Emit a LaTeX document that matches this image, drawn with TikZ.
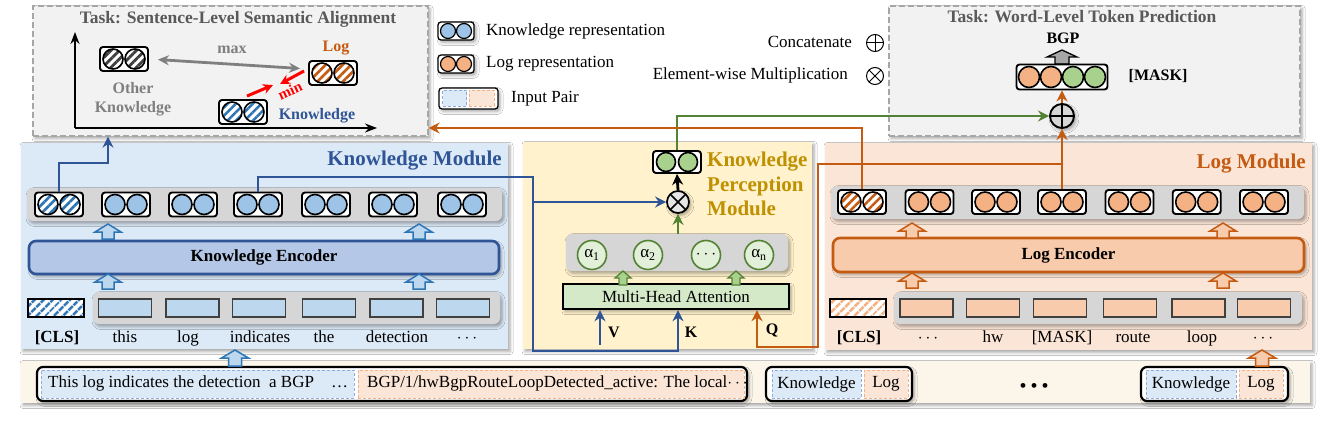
\documentclass[tikz,border=0pt]{standalone}
\usepackage{fontspec}
\setmainfont{Liberation Serif}
\usetikzlibrary{arrows.meta,calc,shadows.blur,patterns.meta}
\definecolor{cKB}{HTML}{2F5597}
\definecolor{cKFill}{HTML}{DCE9F6}
\definecolor{cKDot}{HTML}{9DC3E6}
\definecolor{cKTok}{HTML}{BDD7EE}
\definecolor{cKEnc}{HTML}{B4C7E7}
\definecolor{cKArr}{HTML}{2E75B6}
\definecolor{cLO}{HTML}{C55A11}
\definecolor{cLFill}{HTML}{FBE5D6}
\definecolor{cLDot}{HTML}{F4B183}
\definecolor{cLTok}{HTML}{F8CBAD}
\definecolor{cGold}{HTML}{BF9000}
\definecolor{cKPM}{HTML}{FFF2CC}
\definecolor{cG}{HTML}{548235}
\definecolor{cGDot}{HTML}{A9D18E}
\definecolor{cGLight}{HTML}{E2F0D9}
\definecolor{cMHA}{HTML}{D3E9C8}
\definecolor{cPanel}{HTML}{D6D6D6}
\definecolor{cTask}{HTML}{F2F2F2}
\definecolor{cTaskB}{HTML}{A6A6A6}
\definecolor{cGrayText}{HTML}{7F7F7F}
\definecolor{cTitle}{HTML}{595959}
\definecolor{cStrip}{HTML}{FBF5EA}
\definecolor{cDashB}{HTML}{8FAADC}
\definecolor{cDashO}{HTML}{F4B183}
\definecolor{cDark}{HTML}{404040}
\definecolor{cTokB}{HTML}{404040}
\definecolor{cGrayArr}{HTML}{A6A6A6}
\definecolor{cMul}{HTML}{E7E6E6}

\tikzset{
  every node/.style={font=\fontsize{17}{20}\selectfont, inner sep=0pt},
  shd/.style={blur shadow={shadow xshift=2pt,shadow yshift=-2.5pt,shadow blur radius=3pt,shadow opacity=35}},
  taskbox/.style={draw=cTaskB, dash pattern=on 6pt off 3pt, line width=1.3pt, fill=cTask, shd},
  modbox/.style={shd},
  panel/.style={fill=cPanel, rounded corners=6pt, shd},
  repframe/.style={draw=black, line width=1.9pt, fill=white, rounded corners=3pt, minimum width=48pt, minimum height=24pt},
  repdot/.style={circle, draw=black, line width=1.6pt, minimum size=20pt},
  kdot/.style={fill=cKDot}, ldot/.style={fill=cLDot}, gdot/.style={fill=cGDot},
  khatch/.style={preaction={fill=white}, pattern={Lines[angle=45,distance=6pt,line width=2.6pt]}, pattern color=cKArr},
  lhatch/.style={preaction={fill=white}, pattern={Lines[angle=45,distance=6pt,line width=2.6pt]}, pattern color=cLO},
  ohatch/.style={preaction={fill=white}, pattern={Lines[angle=45,distance=6pt,line width=2.8pt]}, pattern color=cDark},
  kclsbox/.style={draw=black, line width=1.5pt, minimum width=56pt, minimum height=18pt, preaction={fill=white}, pattern={Lines[angle=45,distance=6.5pt,line width=3pt]}, pattern color=cKArr},
  lclsbox/.style={draw=black, line width=1.5pt, minimum width=56pt, minimum height=18pt, preaction={fill=white}, pattern={Lines[angle=45,distance=6.5pt,line width=3pt]}, pattern color=cDashO},
  ktok/.style={draw=cTokB, line width=1.3pt, fill=cKTok, minimum width=53pt, minimum height=18pt},
  ltok/.style={draw=cTokB, line width=1.3pt, fill=cLTok, minimum width=53pt, minimum height=18pt},
  enc/.style={rounded corners=7pt, line width=2.6pt, font=\fontsize{17}{20}\selectfont\bfseries, shd},
  wrd/.style={text height=12pt, text depth=4pt},
  lab/.style={font=\fontsize{16}{19}\selectfont\bfseries},
  ttl/.style={font=\fontsize{21}{24}\selectfont\bfseries},
  tskttl/.style={font=\fontsize{17.5}{20}\selectfont\bfseries, text=cTitle},
  kl/.style={draw=cKB, line width=2.8pt, -{Stealth[length=11pt,width=11pt]}},
  ol/.style={draw=cLO, line width=2.8pt, -{Stealth[length=11pt,width=11pt]}},
  gl/.style={draw=cG, line width=2.8pt, -{Stealth[length=11pt,width=11pt]}},
  bl/.style={draw=black, line width=2.8pt, -{Stealth[length=11pt,width=11pt]}},
  hK/.style={draw=cKArr, line width=1.5pt, fill=cKTok},
  hL/.style={draw=cLO, line width=1.5pt, fill=cLTok},
  hG/.style={draw=cG, line width=1.3pt, fill=cGDot},
  hGray/.style={draw=black, line width=1.3pt, fill=cGrayArr},
  oplusnode/.style={circle, draw=black, line width=1pt, minimum size=17pt, fill=white,
    path picture={\draw[line width=1pt] (path picture bounding box.north) -- (path picture bounding box.south) (path picture bounding box.west) -- (path picture bounding box.east);}},
  otimesnode/.style={circle, draw=black, line width=1pt, minimum size=17pt, fill=white,
    path picture={\draw[line width=1pt] (path picture bounding box.north west) -- (path picture bounding box.south east) (path picture bounding box.north east) -- (path picture bounding box.south west);}},
  catnode/.style={circle, draw=black, line width=1.9pt, minimum size=24pt, fill=cPanel, shd,
    path picture={\draw[line width=1.9pt] (path picture bounding box.north) -- (path picture bounding box.south) (path picture bounding box.west) -- (path picture bounding box.east);}},
  mulnode/.style={circle, draw=black, line width=1.7pt, minimum size=22pt, fill=cMul, shd,
    path picture={\draw[line width=1.7pt] (path picture bounding box.north west) -- (path picture bounding box.south east) (path picture bounding box.north east) -- (path picture bounding box.south west);}},
  pairbox/.style={draw=black, line width=2.2pt, rounded corners=6pt, fill=white, shd},
  halfK/.style={draw=cDashB, dash pattern=on 3pt off 2pt, line width=0.9pt, fill=cKFill},
  halfL/.style={draw=cDashO, dash pattern=on 3pt off 2pt, line width=0.9pt, fill=cLFill},
  acirc/.style={circle, draw=cG, line width=1.6pt, fill=cGLight, minimum size=29pt},
  axisline/.style={draw=black, line width=1.6pt, -{Stealth[length=12pt,width=9pt]}},
  maxarrow/.style={draw=cGrayText, line width=2.8pt, {Stealth[length=11pt,width=10pt]}-{Stealth[length=11pt,width=10pt]}},
  minarrow/.style={draw=red, line width=3pt, -{Stealth[length=10pt,width=10pt]}},
}

\newcommand\repicon[5]{%
  \node[repframe,#4] (#1) at (#2) {};
  \node[repdot,#3] (#1a) at ([xshift=-#5]#1.center) {};
  \node[repdot,#3] (#1b) at ([xshift=#5]#1.center) {};}

\newcommand\hup[7]{%
  \draw[#1] (#2,#3) ++(-#4,0) -- ++(0,-#6) -- ++({#4-#5},0) -- ++(#5,-#7) -- ++(#5,#7) -- ++({#4-#5},0) -- ++(0,#6) -- cycle;}

\begin{document}
\begin{tikzpicture}[x=1pt,y=-1pt]
\useasboundingbox (0,0) rectangle (1322,433);
\fill[white] (0,0) rectangle (1322,433);

% ---------- backgrounds ----------
\node[taskbox, minimum width=395pt, minimum height=130pt] (tsa) at (230.5,71) {};
\node[taskbox, minimum width=411pt, minimum height=130pt] (twp) at (1094.5,71) {};
\node[modbox, fill=cKFill, minimum width=487pt, minimum height=206pt] (km) at (264.5,246) {};
\node[modbox, fill=cKPM, minimum width=289pt, minimum height=207pt] (kpm) at (667.5,245.5) {};
\node[modbox, fill=cLFill, minimum width=487pt, minimum height=207pt] (lm) at (1068.5,246.5) {};
\node[modbox, fill=cStrip, minimum width=1289pt, minimum height=42pt] (strip) at (665.5,382) {};

% ---------- task 1 ----------
\node[tskttl] (tsat) at (238,19) {Task: Sentence-Level Semantic Alignment};
\coordinate (org) at (75,128);
\coordinate (ytip) at (75,32);
\coordinate (xtip) at (377,128);
\draw[axisline] (org) -- (ytip);
\draw[axisline] (org) -- (xtip);
\repicon{ok}{124,59}{ohatch}{}{11pt}
\repicon{lk}{333,73}{lhatch}{}{11pt}
\repicon{kk}{243,112}{khatch}{}{11pt}
\node[lab, text=cGrayText, align=center, font=\fontsize{16}{19}\selectfont\bfseries] (othert) at (133,99) {Other\\Knowledge};
\node[lab, text=cGrayText] (maxt) at (232,50) {max};
\node[lab, text=cLO] (logt) at (336,48) {Log};
\node[lab, text=cKB] (knowt) at (317,116) {Knowledge};
\node[lab, text=red, rotate=25, font=\fontsize{15}{17}\selectfont\bfseries] (mint) at (290,91) {min};
\draw[maxarrow, shorten <=9pt, shorten >=8pt] (ok.east) -- ([yshift=4pt]lk.west);
\draw[minarrow] (kk.north) ++(4,-3) -- ++(26,-11);
\draw[minarrow] (lk.west) ++(-4,-2) -- ++(-24,13);

% ---------- legend ----------
\repicon{legk}{456,31}{kdot, minimum size=15pt, line width=1.2pt}{minimum width=36pt, minimum height=18pt, line width=1.3pt, shd}{8pt}
\node[anchor=west] (legkt) at (486,31) {Knowledge representation};
\repicon{legl}{456,64}{ldot, minimum size=15pt, line width=1.2pt}{minimum width=36pt, minimum height=18pt, line width=1.3pt, shd}{8pt}
\node[anchor=west] (leglt) at (486,64) {Log representation};
\node[draw=black, line width=1.3pt, rounded corners=3pt, fill=white, minimum width=59pt, minimum height=21pt, shd] (legp) at (468.5,98.5) {};
\node[halfK, minimum width=24pt, minimum height=16pt] (legpk) at (454.5,98.5) {};
\node[halfL, minimum width=25pt, minimum height=16pt] (legpl) at (481.5,98.5) {};
\node[anchor=west] (legpt) at (511,99) {Input Pair};
\node[anchor=east] (catt) at (852,42) {Concatenate};
\node[oplusnode] (legplus) at (875,43) {};
\node[anchor=east] (mult) at (848,75) {Element-wise Multiplication};
\node[otimesnode] (legtimes) at (875,76) {};

% ---------- task 2 ----------
\node[tskttl] (twpt) at (1082,17) {Task: Word-Level Token Prediction};
\node[lab] (bgpt) at (1063,38) {BGP};
\hup{hGray}{1062}{64}{7}{15}{7}{7}
\node[repframe, minimum width=91pt, minimum height=25pt] (mask) at (1062,77) {};
\node[repdot, ldot, minimum size=21pt] (maska) at ([xshift=-33pt]mask.center) {};
\node[repdot, ldot, minimum size=21pt] (maskb) at ([xshift=-11pt]mask.center) {};
\node[repdot, gdot, minimum size=21pt] (maskc) at ([xshift=11pt]mask.center) {};
\node[repdot, gdot, minimum size=21pt] (maskd) at ([xshift=33pt]mask.center) {};
\node[lab] (maskt) at (1158,76) {[MASK]};
\node[catnode] (cat) at (1062,116) {};

% ---------- knowledge module ----------
\node[ttl, text=cKB, anchor=east] (kmt) at (502,161) {Knowledge Module};
\node[panel, minimum width=475pt, minimum height=33pt] (kpanel) at (264.5,204.5) {};
\repicon{k1}{59,204.5}{khatch}{}{11pt}
\foreach \x/\i in {126/2,193/3,258/4,326/5,393/6,462/7}{\repicon{k\i}{\x,204.5}{kdot}{}{11pt}}
\node[enc, draw=cKB, fill=cKEnc, minimum width=470pt, minimum height=33pt] (kenc) at (264,257.5) {Knowledge Encoder};
\node[panel, minimum width=407pt, minimum height=32pt] (kin) at (296.5,308) {};
\node[kclsbox] (kcls) at (56,308) {};
\foreach \x/\i in {125/1,192.5/2,258.7/3,328.7/4,396.5/5,463/6}{\node[ktok] (kt\i) at (\x,308) {};}
\node[wrd, font=\fontsize{17}{20}\selectfont\bfseries] (kw0) at (57,338) {[CLS]};
\foreach \x/\t/\i in {125/this/1,188/log/2,260/indicates/3,324/the/4,397/detection/5}{\node[wrd] (kw\i) at (\x,338) {\t};}
\node[wrd] (kw6) at (467,338) {$\cdots$};
\hup{hK}{108}{239}{6}{13}{7}{8}
\hup{hK}{419}{239}{6}{13}{7}{8}
\hup{hK}{108}{289}{6}{13}{7}{8}
\hup{hK}{419}{289}{6}{13}{7}{8}

% ---------- log module ----------
\node[ttl, text=cLO, anchor=east] (lmt) at (1306,164) {Log Module};
\node[panel, minimum width=473pt, minimum height=33pt] (lpanel) at (1067.5,202.5) {};
\repicon{l1}{862,202}{lhatch}{}{11pt}
\foreach \x/\i in {929.5/2,996/3,1062/4,1129.5/5,1196.7/6,1264/7}{\repicon{l\i}{\x,202}{ldot}{}{11pt}}
\node[enc, draw=cLO, fill=cLTok, minimum width=471pt, minimum height=34pt] (lenc) at (1068.5,255) {Log Encoder};
\node[panel, minimum width=408pt, minimum height=32pt] (lin) at (1098,308) {};
\node[lclsbox] (lcls) at (858,308) {};
\foreach \x/\i in {926.5/1,993/2,1060/3,1130/4,1198.5/5,1264/6}{\node[ltok] (lt\i) at (\x,308) {};}
\node[wrd, font=\fontsize{17}{20}\selectfont\bfseries] (lw0) at (859,338) {[CLS]};
\node[wrd] (lw1) at (928,338) {$\cdots$};
\foreach \x/\t/\i in {993/hw/2,1062/[MASK]/3,1133/route/4,1202/loop/5}{\node[wrd] (lw\i) at (\x,338) {\t};}
\node[wrd] (lw6) at (1263,338) {$\cdots$};
\hup{hL}{912}{238}{6}{13}{7}{8}
\hup{hL}{1223}{238}{6}{13}{7}{8}
\hup{hL}{912}{288}{6}{13}{7}{8}
\hup{hL}{1223}{288}{6}{13}{7}{8}

% ---------- knowledge perception module ----------
\node[anchor=west, align=left, font=\fontsize{21}{24.5}\selectfont\bfseries, text=cGold] (kpmt) at (707,184) {Knowledge\\Perception\\Module};
\node[repframe, minimum width=48pt, minimum height=22pt] (g) at (677,162) {};
\node[repdot, gdot, minimum size=19pt] (ga) at ([xshift=-11pt]g.center) {};
\node[repdot, gdot, minimum size=19pt] (gb) at ([xshift=11pt]g.center) {};
\node[mulnode] (mul) at (678,202) {};
\node[panel, minimum width=222pt, minimum height=37pt] (apanel) at (677,252.5) {};
\node[acirc] (a1) at (592,255) {α\textsubscript{1}};
\node[acirc] (a2) at (648,255) {α\textsubscript{2}};
\node[acirc] (a3) at (706,255) {$\cdots$};
\node[acirc] (a4) at (759,255) {α\textsubscript{n}};
\node[draw=black, line width=2.4pt, fill=cMHA, minimum width=226pt, minimum height=25pt, shd] (mha) at (676,296.5) {Multi-Head Attention};
\hup{hG}{623}{285}{4}{8}{7}{7}
\hup{hG}{736}{285}{4}{8}{7}{7}
\node[lab] (vt) at (614,332) {V};
\node[lab] (kt) at (691,332) {K};
\node[lab] (qt) at (772,330) {Q};

% ---------- connectors ----------
\coordinate (kc1) at (108,163);
\draw[kl] (k1.north) |- (kc1) -- (kc1 |- tsa.south);
\coordinate (kc2) at (533,177);
\coordinate (kc3) at (533,351);
\coordinate (kc5) at (678,351);
\draw[kl] (k4.north) |- (kc2) -- (kc3) -- (kc5) -- (kc5 |- mha.south);
\coordinate (kc4) at (533,202);
\draw[kl] (kc4) -- (mul.west);
\coordinate (vb) at (600,345);
\draw[kl] (vb) -- (vb |- mha.south);
\draw[gl] (apanel.north -| mul) -- (mul.south);
\draw[bl] (mul.north) -- (g.south);
\draw[gl] (g.north) |- (cat.west);
\coordinate (oc1) at (862,128);
\draw[ol] (l1.north) -- (oc1) -- (oc1 -| tsa.east);
\draw[ol] (l4.north) -- (cat.south);
\draw[ol] (cat.north) -- (mask.south);
\coordinate (qj) at (1062,164);
\coordinate (qa) at (818,347);
\coordinate (qb) at (757,347);
\draw[ol] (qj) -| (qa) -- (qb) -- (qb |- mha.south);

% ---------- bottom strip ----------
\node[pairbox, minimum width=710pt, minimum height=34pt] (p1) at (392,384) {};
\node[halfK, minimum width=313pt, minimum height=28pt] (p1k) at (197.5,384) {};
\node[halfL, minimum width=386pt, minimum height=28pt] (p1l) at (551,384) {};
\node[anchor=west] (p1kt) at (48,383) {This log indicates the detection\ \ a BGP\quad …};
\node[anchor=west] (p1lt) at (367,383) {BGP/1/hwBgpRouteLoopDetected\_active: The local$\cdots$};
\node[pairbox, minimum width=146pt, minimum height=34pt] (p2) at (839,384) {};
\node[halfK, minimum width=89pt, minimum height=28pt] (p2k) at (816.5,384) {Knowledge};
\node[halfL, minimum width=44pt, minimum height=28pt] (p2l) at (886,384) {Log};
\node[font=\fontsize{20}{22}\selectfont] (dots) at (1034,388) {•\hspace{4pt}•\hspace{4pt}•};
\node[pairbox, minimum width=147pt, minimum height=34pt] (p3) at (1214.5,384) {};
\node[halfK, minimum width=90pt, minimum height=28pt] (p3k) at (1191,384) {Knowledge};
\node[halfL, minimum width=44pt, minimum height=28pt] (p3l) at (1261,384) {Log};
\hup{hK}{235}{366}{6.5}{13.5}{8}{8}
\hup{hL}{1262}{366}{6.5}{13.5}{8}{8}
\end{tikzpicture}
\end{document}
